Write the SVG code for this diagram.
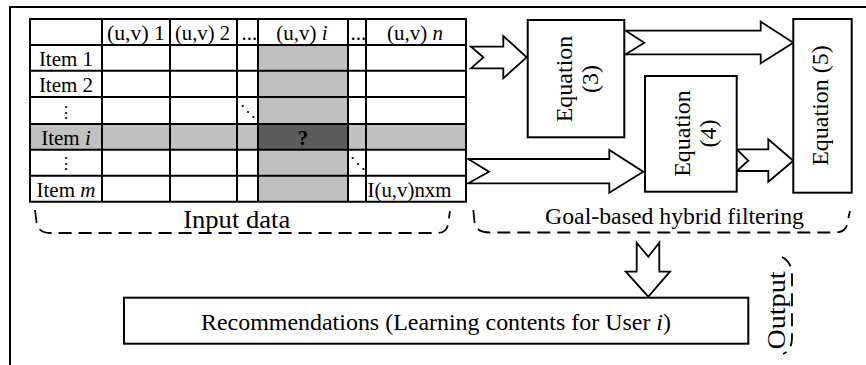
<svg xmlns="http://www.w3.org/2000/svg" width="866" height="365" viewBox="0 0 866 365">
<style>
.t{font-family:"Liberation Serif","Times New Roman",serif;fill:#000}
.tb{font-size:21px}
.big{font-size:24px}
.ln{stroke:#000;stroke-width:2;fill:none}
.box{fill:#fff;stroke:#000;stroke-width:2}
.arr{fill:#fff;stroke:#000;stroke-width:1.8;stroke-linejoin:miter}
.dash{fill:none;stroke:#000;stroke-width:1.8;stroke-dasharray:13 7}
.dots{font-family:"DejaVu Serif",serif;font-size:16px;fill:#000}
</style>
<rect width="866" height="365" fill="#fff"/>
<g id="frame">
<path class="ln" d="M10,365 V7 H866"/>
</g>
<g id="input-table">
<rect x="258" y="45" width="90" height="156.7" fill="#c0c0c0"/>
<rect x="30" y="124" width="436" height="25.7" fill="#c0c0c0"/>
<rect x="258" y="124" width="90" height="25.7" fill="#5c5c5c"/>
<path class="ln" d="M30,19 H466 V201.7 H30 Z M30,45 H466 M30,70.7 H466 M30,97 H466 M30,124 H466 M30,149.7 H466 M30,175.7 H466 M102,19 V201.7 M170,19 V201.7 M237,19 V201.7 M258,19 V201.7 M348,19 V201.7 M366,19 V201.7"/>
<g class="t tb">
<text x="107" y="40" textLength="58" lengthAdjust="spacingAndGlyphs">(u,v) 1</text>
<text x="175" y="40" textLength="55" lengthAdjust="spacingAndGlyphs">(u,v) 2</text>
<text x="241.5" y="40">...</text>
<text x="302" y="40" text-anchor="middle">(u,v) <tspan font-style="italic">i</tspan></text>
<text x="350.5" y="40">...</text>
<text x="415" y="40" text-anchor="middle">(u,v) <tspan font-style="italic">n</tspan></text>
<text x="66" y="66" text-anchor="middle">Item 1</text>
<text x="66" y="92" text-anchor="middle">Item 2</text>
<text x="66" y="145" text-anchor="middle">Item <tspan font-style="italic">i</tspan></text>
<text x="66" y="197" text-anchor="middle">Item <tspan font-style="italic">m</tspan></text>
<text x="303" y="145" text-anchor="middle" font-weight="bold">?</text>
<text x="367.5" y="197" textLength="84" lengthAdjust="spacingAndGlyphs">I(u,v)nxm</text>
</g>
<text class="dots" x="66" y="118" text-anchor="middle">⋮</text>
<text class="dots" x="66" y="169" text-anchor="middle">⋮</text>
<text class="dots" x="247.5" y="117" text-anchor="middle">⋱</text>
<text class="dots" x="357.5" y="169" text-anchor="middle">⋱</text>
</g>
<g id="input-label">
<path class="dash" d="M35,210 L36.5,222 Q38,233 50,233 L437,233 Q447,233 448,224 L450,211"/>
<text class="t" font-size="25" x="236.7" y="228" text-anchor="middle" textLength="107" lengthAdjust="spacingAndGlyphs">Input data</text>
</g>
<g id="connectors">
<polygon class="arr" points="471,46.7 503.3,46.7 503.3,36 526.7,57.3 503.3,78.3 503.3,68.3 471,68.3 483.3,57.3"/>
<polygon class="arr" points="468.3,159 609.3,159 609.3,150 643.3,171.7 609.3,192.7 609.3,183.3 468.3,183.3 489,171.7"/>
<polygon class="arr" points="625.7,30.7 760.7,30.7 760.7,21.7 793.3,42.7 760.7,63.3 760.7,54.3 625.7,54.3 644.3,42.7"/>
<polygon class="arr" points="736.7,149.3 768.3,149.3 768.3,139.3 793.3,160.7 768.3,181.7 768.3,171 736.7,171 748.3,160.7"/>
<polygon class="arr" points="636.7,242.7 648.3,256.7 659.3,242.7 659.3,271.7 670,271.7 648.3,296.7 625.7,271.7 636.7,271.7"/>
</g>
<g id="eq3">
<rect class="box" x="527.7" y="20" width="96.6" height="117.3"/>
<text class="t big" transform="translate(571.7,79) rotate(-90)" text-anchor="middle">Equation</text>
<text class="t big" transform="translate(598,79) rotate(-90)" text-anchor="middle">(3)</text>
</g>
<g id="eq4">
<rect class="box" x="645" y="76" width="91.7" height="115.7"/>
<text class="t big" transform="translate(690,133.5) rotate(-90)" text-anchor="middle">Equation</text>
<text class="t big" transform="translate(715.5,133.5) rotate(-90)" text-anchor="middle">(4)</text>
</g>
<g id="eq5">
<rect class="box" x="793.3" y="19" width="58.4" height="173.7"/>
<text class="t big" transform="translate(828,105.5) rotate(-90)" text-anchor="middle">Equation (5)</text>
</g>
<g id="goal-label">
<path class="dash" d="M473.3,210 L474.5,222 Q476,232.5 490,232.5 L834,232.5 Q846,232.5 847,224 L850,211"/>
<text class="t big" x="674.5" y="224" text-anchor="middle" textLength="259" lengthAdjust="spacingAndGlyphs">Goal-based hybrid filtering</text>
</g>
<g id="recommendations">
<rect class="box" x="124" y="297.7" width="624.3" height="46"/>
<text class="t big" x="436" y="330" text-anchor="middle" textLength="470" lengthAdjust="spacingAndGlyphs">Recommendations (Learning contents for User <tspan font-style="italic">i</tspan>)</text>
</g>
<g id="output-label">
<path class="dash" d="M782,257 Q792,262 792,276 L792,338 Q792,350 783,354"/>
<text class="t" font-size="26" transform="translate(785,310.5) rotate(-90)" text-anchor="middle" textLength="78" lengthAdjust="spacingAndGlyphs">Output</text>
</g>
</svg>
